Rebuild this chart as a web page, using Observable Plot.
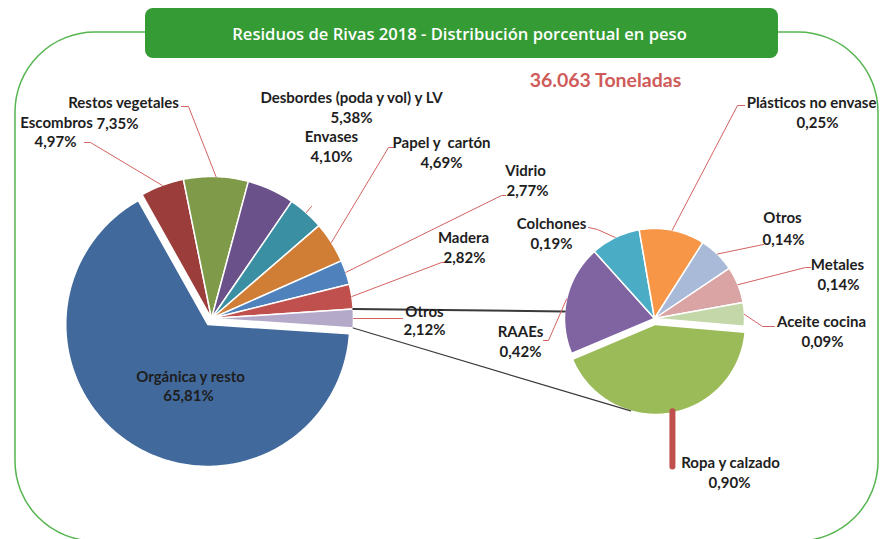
<!DOCTYPE html>
<html><head><meta charset="utf-8">
<script src="https://cdn.jsdelivr.net/npm/d3@7"></script>
<script src="https://cdn.jsdelivr.net/npm/@observablehq/plot@0.6"></script>
<style>html,body{margin:0;padding:0;background:#fff;} #chart svg{display:block}</style>
</head><body><div id="chart"></div>
<script>
// ---------- DATA ----------
const title = "Residuos de Rivas 2018 - Distribución porcentual en peso";
const subtitle = "36.063 Toneladas";

const bigCategories = ["Orgánica y resto","Escombros","Restos vegetales","Desbordes (poda y vol) y LV","Envases","Papel y  cartón","Vidrio","Madera","Otros"];
const bigValues = [65.81, 4.97, 7.35, 5.38, 4.10, 4.69, 2.77, 2.82, 2.12];
const bigPercentLabels = ["65,81%","4,97%","7,35%","5,38%","4,10%","4,69%","2,77%","2,82%","2,12%"];

const smallCategories = ["Ropa y calzado","RAAEs","Colchones","Plásticos no envase","Otros","Metales","Aceite cocina"];
const smallValues = [0.90, 0.42, 0.19, 0.25, 0.14, 0.14, 0.09];
const smallPercentLabels = ["0,90%","0,42%","0,19%","0,25%","0,14%","0,14%","0,09%"];

// ---------- STYLE / LAYOUT ----------
const W = 881, H = 539;
const bigColors = ["#41699c","#9b3e3b","#7f9a48","#6a5189","#3a8fa3","#d07d36","#4f81bd","#c0504d","#b4a9c9"];
const smallColors = ["#9bbb59","#8064a2","#4bacc6","#f79646","#a9b9d8","#d9a4a3","#c4d7a8"];
const bigGeom = {cx: 211, cy: 318, r: 142, start: null, explodeIndex: 0, explode: 7};
const smallGeom = {cx: 654, cy: 318, r: 90, start: 95, explodeIndex: 0, explode: 6};
const leaderColor = "#d26361";
const labelFont = "Lato";

const bigLabelLayout = [
  {name:[190,377], pct:[188,396], leader:null},
  {name:[56,123], pct:[55,142], leader:[[90,142],[84,142]]},
  {name:[123,103], pct:[117,124], leader:[[188,106],[181,106]]},
  {name:[351,98], pct:[351,118], leader:null},
  {name:[331,137], pct:[331,157], leader:[[311,206]]},
  {name:[441,143], pct:[441,163], leader:[[388,147],[393,147]]},
  {name:[525,171], pct:[527,191], leader:[[501,195],[505,195]]},
  {name:[463,238], pct:[464,258], leader:[[441,262],[446,262]]},
  {name:[424,312], pct:[424,330], leader:[[402,318]]}
];
const smallLabelLayout = [
  {name:[730,463], pct:[729,483], leader:"bar"},
  {name:[520,332], pct:[520,352], leader:[[548,340],[543,340]]},
  {name:[551,224], pct:[551,244], leader:[[597,229],[588,227]]},
  {name:[811,103], pct:[817,123], leader:[[737,105],[744,105]]},
  {name:[782,218], pct:[783,240], leader:[[758,245],[763,244]]},
  {name:[837,265], pct:[838,285], leader:[[805,267],[810,267]]},
  {name:[821,322], pct:[822,342], leader:[[762,326],[774,326]]}
];
const connectorSmallAngles = [274.5, 196]; // where the connector lines meet the second pie

// ---------- GEOMETRY ----------
const rad = d => d * Math.PI / 180;
function layoutPie(values, g) {
  const total = d3.sum(values);
  let start = g.start;
  if (start == null) start = 90 + 0.5 * values[values.length - 1] / total * 360; // last slice centred at 3 o'clock
  let a = start;
  return values.map((v, i) => {
    const a0 = a, a1 = a + v / total * 360; a = a1;
    const mid = (a0 + a1) / 2;
    const off = i === g.explodeIndex ? g.explode : 0;
    const cx = g.cx + off * Math.sin(rad(mid)), cy = g.cy - off * Math.cos(rad(mid));
    return {i, a0, a1, mid, cx, cy, r: g.r};
  });
}
const pt = (s, a, r = s.r) => [s.cx + r * Math.sin(rad(a)), s.cy - r * Math.cos(rad(a))];
function slicePoints(s, key) {
  const pts = [{key, x: s.cx, y: s.cy}];
  const n = Math.max(2, Math.ceil((s.a1 - s.a0) / 1));
  for (let k = 0; k <= n; k++) {
    const [x, y] = pt(s, s.a0 + (s.a1 - s.a0) * k / n);
    pts.push({key, x, y});
  }
  return pts;
}
const bigSlices = layoutPie(bigValues, bigGeom);
const smallSlices = layoutPie(smallValues, smallGeom);

const marks = [];
// frame
marks.push(Plot.rect([{x1:15,x2:878,y1:32,y2:541}], {x1:"x1",x2:"x2",y1:"y1",y2:"y2",rx:80,fill:"none",stroke:"#55b54f",strokeWidth:1.5}));
// title box
marks.push(Plot.rect([{x1:145,x2:778,y1:8,y2:58}], {x1:"x1",x2:"x2",y1:"y1",y2:"y2",rx:8,fill:"#359b35"}));
marks.push(Plot.text([title], {x:()=>459, y:()=>34, text:d=>d, fill:"#fff", fontFamily:"Open Sans", fontWeight:600, fontSize:16.6, textAnchor:"middle", lineAnchor:"middle"}));
marks.push(Plot.text([subtitle], {x:()=>605, y:()=>80, text:d=>d, fill:"#cf5b5a", fontFamily:labelFont, fontWeight:700, fontSize:19.5, textAnchor:"middle", lineAnchor:"middle"}));

// slices
bigSlices.forEach((s, i) => {
  marks.push(Plot.line(slicePoints(s, bigCategories[i]), {x:"x", y:"y", curve:"linear-closed", fill:bigColors[i], stroke:"#fff", strokeWidth:1.5, strokeLinejoin:"round"}));
});
smallSlices.forEach((s, i) => {
  marks.push(Plot.line(slicePoints(s, smallCategories[i]), {x:"x", y:"y", curve:"linear-closed", fill:smallColors[i], stroke:"#fff", strokeWidth:1.5, strokeLinejoin:"round"}));
});

// connector lines between the two pies
const otros = bigSlices[bigSlices.length - 1];
const up0 = pt(otros, otros.a0), lo0 = pt(otros, otros.a1);
const up1 = pt({cx: smallGeom.cx, cy: smallGeom.cy, r: smallGeom.r}, connectorSmallAngles[0]);
const lo1 = pt(smallSlices[0], connectorSmallAngles[1]);
marks.push(Plot.line([up0, up1], {x:d=>d[0], y:d=>d[1], stroke:"#3a3a3a", strokeWidth:2}));
marks.push(Plot.line([lo0, lo1], {x:d=>d[0], y:d=>d[1], stroke:"#3a3a3a", strokeWidth:1.2}));

// leader lines
function leaders(slices, layout) {
  slices.forEach((s, i) => {
    const L = layout[i].leader;
    if (!L) return;
    const p0 = pt(s, s.mid);
    if (L === "bar") {
      marks.push(Plot.line([[p0[0] + 3, p0[1] - 2], [p0[0] + 3, layout[i].name[1] + 3]], {x:d=>d[0], y:d=>d[1], stroke:"#c0504d", strokeWidth:6}));
      return;
    }
    marks.push(Plot.line([p0, ...L], {x:d=>d[0], y:d=>d[1], stroke:leaderColor, strokeWidth:1}));
  });
}
leaders(bigSlices, bigLabelLayout);
leaders(smallSlices, smallLabelLayout);

// labels
function labelRows(cats, pcts, layout) {
  const rows = [];
  cats.forEach((c, i) => {
    rows.push({x: layout[i].name[0], y: layout[i].name[1], t: c});
    rows.push({x: layout[i].pct[0], y: layout[i].pct[1], t: pcts[i]});
  });
  return rows;
}
const labelOpts = {x:"x", y:"y", text:"t", fill:"#1e1e1e", fontFamily:labelFont, fontWeight:700, fontSize:15, textAnchor:"middle", lineAnchor:"middle"};
marks.push(Plot.text(labelRows(bigCategories, bigPercentLabels, bigLabelLayout), labelOpts));
marks.push(Plot.text(labelRows(smallCategories, smallPercentLabels, smallLabelLayout), labelOpts));

const chart = Plot.plot({
  width: W, height: H, margin: 0,
  x: {domain: [0, W], range: [0, W], axis: null},
  y: {domain: [0, H], range: [0, H], axis: null},
  style: {background: "#fff", overflow: "hidden"},
  marks
});
document.getElementById("chart").append(chart);
</script>
</body></html>
